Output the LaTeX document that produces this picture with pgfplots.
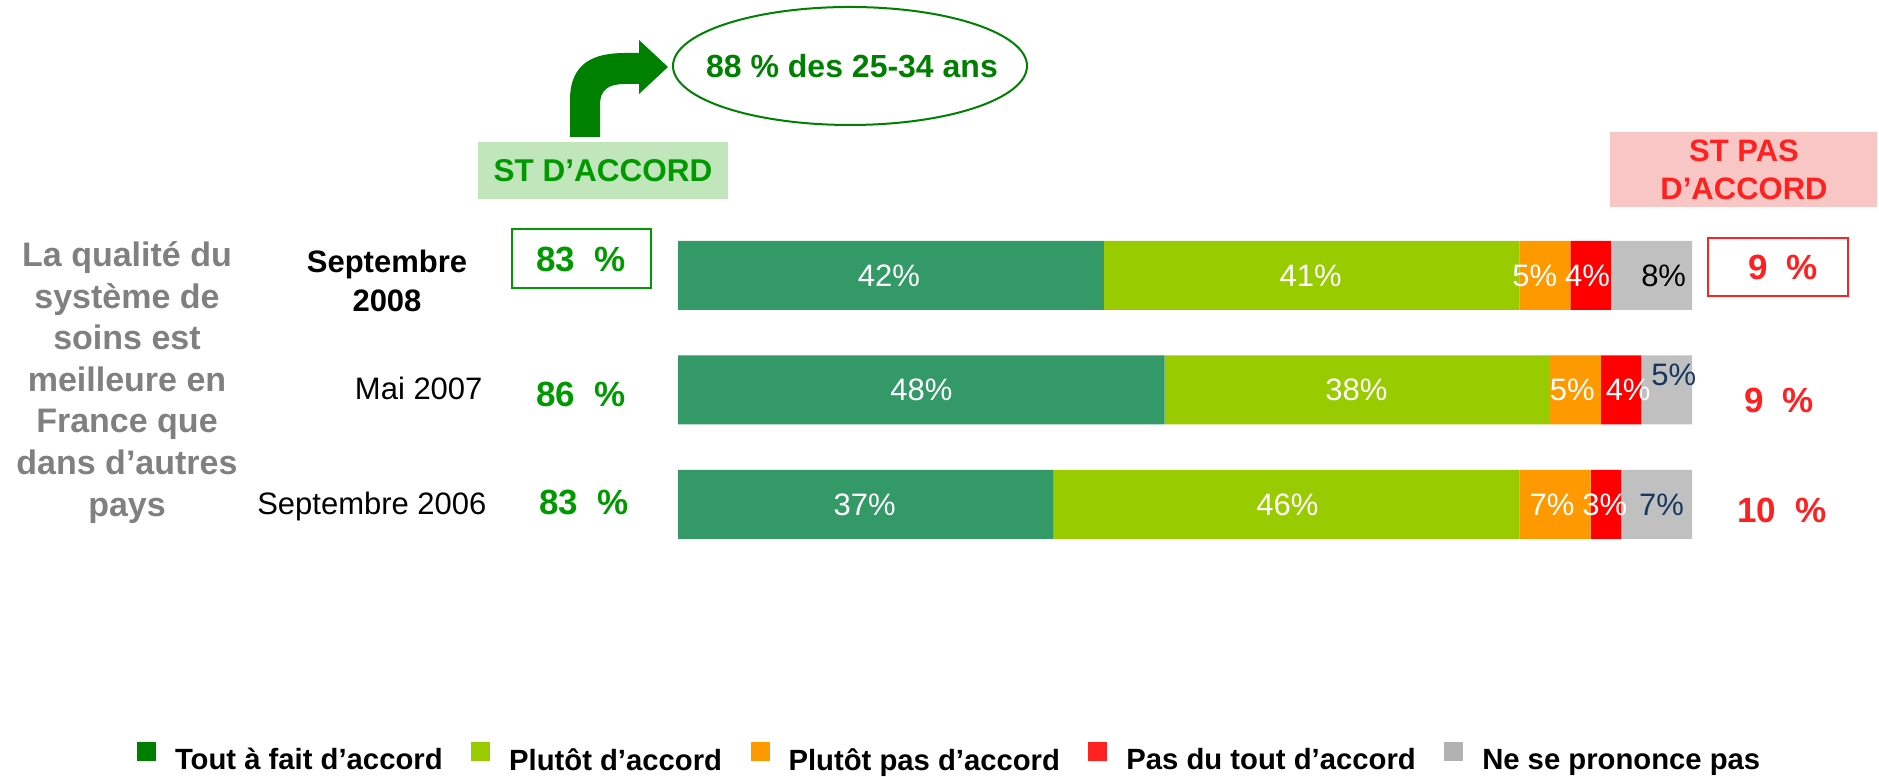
\documentclass[border=0pt]{standalone}
\usepackage{pgfplots}
\pgfplotsset{compat=1.18}
\usepackage{fontspec}
\setmainfont{Liberation Sans}
\definecolor{cA}{HTML}{339966}
\definecolor{cB}{HTML}{99CC00}
\definecolor{cC}{HTML}{FF9900}
\definecolor{cD}{HTML}{FF0000}
\definecolor{cE}{HTML}{C0C0C0}
\definecolor{lA}{HTML}{008000}
\definecolor{lD}{HTML}{FF2020}
\definecolor{lE}{HTML}{B2B2B2}
\definecolor{gtxt}{HTML}{009900}
\definecolor{rtxt}{HTML}{FF2020}
\definecolor{navy}{HTML}{17375E}
\definecolor{gbox}{HTML}{C2E6BC}
\definecolor{rbox}{HTML}{F9C6C6}
\definecolor{greyt}{HTML}{808080}
\newcommand\lbl{\fontsize{12.4}{14}\selectfont}
\newcommand\bigv{\fontsize{14}{16}\selectfont\bfseries}
\begin{document}
\begin{tikzpicture}[x=0.4pt,y=0.4pt]
\path[use as bounding box] (0,0) rectangle (1879,777);

% header boxes
\fill[gbox] (478,635) rectangle (728,578);
\node[anchor=base,text=gtxt,font=\fontsize{12.6}{14}\selectfont\bfseries,inner sep=0pt] at (603,595) {ST D’ACCORD};
\fill[rbox] (1610,645) rectangle (1877,570);
\node[anchor=base,text=rtxt,font=\fontsize{12.4}{14}\selectfont\bfseries,inner sep=0pt] at (1744,615) {ST PAS};
\node[anchor=base,text=rtxt,font=\fontsize{12.4}{14}\selectfont\bfseries,inner sep=0pt] at (1744,577) {D’ACCORD};

% arrow
\fill[lA] (570,640) -- (570,677) .. controls (570,715) and (595,724) .. (625,724) -- (639,724) -- (639,737) -- (668,710) -- (639,683) -- (639,693) -- (625,693) .. controls (608,693) and (600,687) .. (600,672) -- (600,640) -- cycle;
% ellipse
\draw[lA,line width=0.8pt] (850,711) ellipse [x radius=177, y radius=59];
\node[anchor=base,text=lA,font=\fontsize{12.8}{14}\selectfont\bfseries,inner sep=0pt] at (852,699) {88 \% des 25-34 ans};

% left question
\foreach \t/\yy in {La qualité du/510, système de/468.5, soins est/427, meilleure en/385, France que/344, dans d’autres/302, pays/260}{
  \node[anchor=base,text=greyt,font=\fontsize{13.6}{15}\selectfont\bfseries,inner sep=0pt] at (127,\yy) {\t};
}

% category labels
\node[anchor=base,font=\lbl\bfseries,inner sep=0pt] at (387,504) {Septembre};
\node[anchor=base,font=\lbl\bfseries,inner sep=0pt] at (387,465) {2008};
\node[anchor=base east,font=\lbl,inner sep=0pt] at (483,377) {Mai 2007};
\node[anchor=base east,font=\lbl,inner sep=0pt] at (487,262) {Septembre 2006};

% agree totals
\draw[gtxt,line width=0.8pt] (512,548) rectangle (651,489);
\node[anchor=base,text=gtxt,font=\bigv,inner sep=0pt] at (581,505) {83~~\%};
\node[anchor=base,text=gtxt,font=\bigv,inner sep=0pt] at (581,370) {86~~\%};
\node[anchor=base,text=gtxt,font=\bigv,inner sep=0pt] at (584,262) {83~~\%};

% disagree totals
\draw[rtxt,line width=0.8pt] (1708,539) rectangle (1848,481);
\node[anchor=base,text=rtxt,font=\bigv,inner sep=0pt] at (1783,497) {9~~\%};
\node[anchor=base,text=rtxt,font=\bigv,inner sep=0pt] at (1779,364) {9~~\%};
\node[anchor=base,text=rtxt,font=\bigv,inner sep=0pt] at (1782,254) {10~~\%};

\begin{axis}[
  at={(271.2pt,86.1pt)}, anchor=south west,
  width=405.6pt, height=137.4pt, scale only axis,
  hide axis, clip=false,
  xmin=0, xmax=100, ymin=0.5, ymax=3.5,
  xbar stacked, bar width=27.6pt,
  legend style={at={(-0.5335,-0.5713)}, anchor=west, legend columns=-1,
    draw=none, fill=none, inner sep=0pt, outer sep=0pt,
    font=\fontsize{11.7}{13}\selectfont\bfseries,
    nodes={inner sep=0pt},
    /tikz/every odd column/.append style={column sep=7.6pt},
    /tikz/every even column/.append style={column sep=11.4pt}},
]
\addplot[fill=cA,draw=none,legend image code/.code={\fill[lA] (0pt,0pt) rectangle (7.6pt,7.6pt);}] coordinates {(42,3) (48,2) (37,1)};
\addplot[fill=cB,draw=none,legend image code/.code={\fill[cB] (0pt,0pt) rectangle (7.6pt,7.6pt);}] coordinates {(41,3) (38,2) (46,1)};
\addplot[fill=cC,draw=none,legend image code/.code={\fill[cC] (0pt,0pt) rectangle (7.6pt,7.6pt);}] coordinates {(5,3) (5,2) (7,1)};
\addplot[fill=cD,draw=none,legend image code/.code={\fill[lD] (0pt,0pt) rectangle (7.6pt,7.6pt);}] coordinates {(4,3) (4,2) (3,1)};
\addplot[fill=cE,draw=none,legend image code/.code={\fill[lE] (0pt,0pt) rectangle (7.6pt,7.6pt);}] coordinates {(8,3) (5,2) (7,1)};
\legend{Tout à fait d’accord, Plutôt d’accord, Plutôt pas d’accord, Pas du tout d’accord, Ne se prononce pas}

\coordinate (a1) at (axis cs:20.8,3);
\coordinate (a2) at (axis cs:62.4,3);
\coordinate (a3) at (axis cs:84.5,3);
\coordinate (a4) at (axis cs:89.7,3);
\coordinate (a5) at (axis cs:97.2,3);
\coordinate (b1) at (axis cs:24,2);
\coordinate (b2) at (axis cs:66.9,2);
\coordinate (b3) at (axis cs:88.2,2);
\coordinate (b4) at (axis cs:93.7,2);
\coordinate (b5) at (axis cs:98.2,2.13);
\coordinate (c1) at (axis cs:18.4,1);
\coordinate (c2) at (axis cs:60.1,1);
\coordinate (c3) at (axis cs:86.2,1);
\coordinate (c4) at (axis cs:91.4,1);
\coordinate (c5) at (axis cs:97.0,1);
\end{axis}

\begin{scope}[every node/.style={font=\lbl,inner sep=0pt,text=white}]
\node at (a1) {42\%};
\node at (a2) {41\%};
\node at (a3) {5\%};
\node at (a4) {4\%};
\node[text=black] at (a5) {8\%};
\node at (b1) {48\%};
\node at (b2) {38\%};
\node at (b3) {5\%};
\node at (b4) {4\%};
\node[text=navy] at (b5) {5\%};
\node at (c1) {37\%};
\node at (c2) {46\%};
\node at (c3) {7\%};
\node at (c4) {3\%};
\node[text=navy] at (c5) {7\%};
\end{scope}
\end{tikzpicture}
\end{document}
